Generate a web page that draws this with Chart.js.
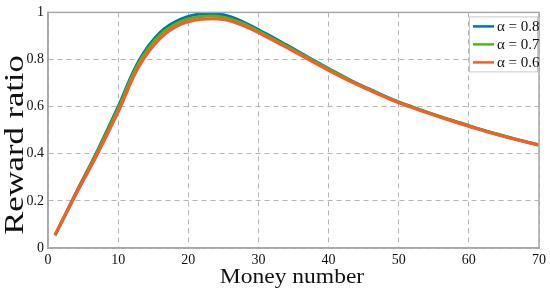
<!DOCTYPE html>
<html>
<head>
<meta charset="utf-8">
<script src="https://cdn.jsdelivr.net/npm/chart.js@4"></script>
<style>
  html, body { margin: 0; padding: 0; background: #fff; }
  #wrap { width: 550px; height: 295px; }
</style>
</head>
<body>
<div id="wrap"><canvas id="chart" width="550" height="295"></canvas></div>
<script>
const moneyNumbers = [1, 4, 7, 10, 13, 16, 19, 22, 25, 28, 31, 34, 37, 40, 43, 46, 49, 52, 55, 58, 61, 64, 67, 70];

// reward ratio for each alpha
const ratioA08 = [0.055, 0.235, 0.41, 0.60, 0.797, 0.915, 0.972, 0.994, 0.99, 0.957, 0.911, 0.862, 0.812, 0.762, 0.714, 0.672, 0.632, 0.598, 0.567, 0.538, 0.51, 0.484, 0.46, 0.438];
const ratioA07 = [0.055, 0.232, 0.404, 0.59, 0.787, 0.905, 0.962, 0.983, 0.98, 0.95, 0.905, 0.857, 0.808, 0.759, 0.712, 0.67, 0.631, 0.597, 0.566, 0.537, 0.509, 0.483, 0.459, 0.437];
const ratioA06 = [0.053, 0.228, 0.396, 0.577, 0.772, 0.89, 0.95, 0.971, 0.97, 0.942, 0.898, 0.851, 0.803, 0.754, 0.708, 0.667, 0.628, 0.595, 0.564, 0.535, 0.507, 0.481, 0.458, 0.436];

const seriesLabels = ['α = 0.8', 'α = 0.7', 'α = 0.6'];
const seriesColors = ['#0072BD', '#4CBB17', '#FF5A1F'];

const xTicks = [0, 10, 20, 30, 40, 50, 60, 70];
const yTicks = [0, 0.2, 0.4, 0.6, 0.8, 1];

const serif = '"Liberation Serif", "Times New Roman", serif';

function toPoints(ys) {
    return moneyNumbers.map((x, i) => ({ x: x, y: ys[i] }));
}

// frame around plot, axis titles (the original is a bit stretched) and legend box
const frameAndLegend = {
    id: 'frameAndLegend',
    afterDatasetsDraw(chart) {
        const { ctx, chartArea: a } = chart;
        ctx.save();
        ctx.strokeStyle = '#a8a8a8';
        ctx.lineWidth = 1.5;
        ctx.strokeRect(a.left, a.top, a.right - a.left, a.bottom - a.top);

        ctx.fillStyle = '#111';
        ctx.textAlign = 'center';
        ctx.textBaseline = 'alphabetic';

        // y title
        ctx.save();
        ctx.translate(23, 145);
        ctx.rotate(-Math.PI / 2);
        ctx.scale(1.28, 1);
        ctx.font = '27px ' + serif;
        ctx.fillText('Reward ratio', 0, 0);
        ctx.restore();

        // x title
        ctx.save();
        ctx.translate(292, 283);
        ctx.scale(1.12, 1);
        ctx.font = '21px ' + serif;
        ctx.fillText('Money number', 0, 0);
        ctx.restore();

        const bx = a.right - 70, by = a.top + 4, bw = 68, bh = 55;
        ctx.fillStyle = '#fff';
        ctx.fillRect(bx, by, bw, bh);
        ctx.strokeStyle = '#c8c8c8';
        ctx.lineWidth = 1;
        ctx.strokeRect(bx + 0.5, by + 0.5, bw, bh);

        ctx.font = '15px ' + serif;
        ctx.textBaseline = 'middle';
        ctx.textAlign = 'left';
        chart.data.datasets.forEach((ds, i) => {
            const yy = by + 10 + i * 18;
            ctx.strokeStyle = ds.borderColor;
            ctx.lineWidth = 2.5;
            ctx.beginPath();
            ctx.moveTo(bx + 4, yy);
            ctx.lineTo(bx + 25, yy);
            ctx.stroke();
            ctx.fillStyle = '#111';
            ctx.fillText(ds.label, bx + 28, yy + 1);
        });
        ctx.restore();
    }
};

const ctx = document.getElementById('chart').getContext('2d');
new Chart(ctx, {
    type: 'line',
    data: {
        datasets: [
            { label: seriesLabels[0], data: toPoints(ratioA08), borderColor: seriesColors[0], order: 3 },
            { label: seriesLabels[1], data: toPoints(ratioA07), borderColor: seriesColors[1], order: 2 },
            { label: seriesLabels[2], data: toPoints(ratioA06), borderColor: seriesColors[2], order: 1 }
        ]
    },
    options: {
        responsive: false,
        animation: false,
        layout: { padding: { top: 12, right: 10, left: 0, bottom: 0 } },
        elements: {
            point: { radius: 0 },
            line: { borderWidth: 3, tension: 0.4, fill: false }
        },
        plugins: {
            legend: { display: false },
            tooltip: { enabled: false }
        },
        scales: {
            x: {
                type: 'linear',
                min: 0,
                max: 70,
                afterBuildTicks: s => { s.ticks = xTicks.map(v => ({ value: v })); },
                afterFit: s => { s.height = 47; },
                grid: { color: '#b4b4b4', drawTicks: false },
                border: { color: '#a8a8a8', width: 1.5, dash: [5, 4] },
                ticks: { padding: 4, color: '#111', font: { family: serif, size: 14 } }
            },
            y: {
                min: 0,
                max: 1,
                afterBuildTicks: s => { s.ticks = yTicks.map(v => ({ value: v })); },
                afterFit: s => { s.width = 48; },
                grid: { color: '#b4b4b4', drawTicks: false },
                border: { color: '#a8a8a8', width: 1.5, dash: [5, 4] },
                ticks: { padding: 4, color: '#111', font: { family: serif, size: 14 }, callback: v => String(v) }
            }
        }
    },
    plugins: [frameAndLegend]
});
</script>
</body>
</html>
